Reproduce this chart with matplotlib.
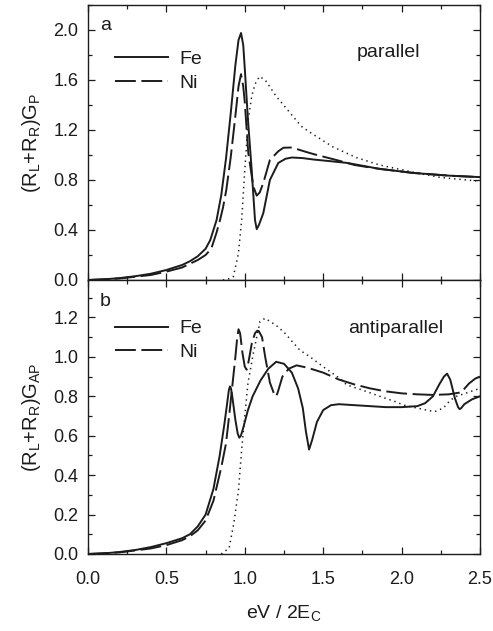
import matplotlib
matplotlib.use("Agg")
import matplotlib.pyplot as plt

# panel a: parallel
fe_p_x = [0, 0.1, 0.2, 0.3, 0.4, 0.5, 0.6, 0.65, 0.7, 0.75, 0.78, 0.82, 0.85, 0.88, 0.91, 0.94,
          0.96, 0.976, 0.99, 1.0, 1.02, 1.044, 1.065, 1.076, 1.09, 1.118, 1.16, 1.214, 1.26, 1.3,
          1.37, 1.437, 1.55, 1.65, 1.86, 2.07, 2.3, 2.5]
fe_p_y = [0, 0.005, 0.015, 0.03, 0.05, 0.08, 0.12, 0.15, 0.19, 0.25, 0.32, 0.48, 0.68, 0.97, 1.33, 1.72,
          1.92, 1.976, 1.88, 1.69, 1.285, 0.88, 0.48, 0.407, 0.44, 0.535, 0.80, 0.937, 0.97, 0.98,
          0.975, 0.964, 0.95, 0.937, 0.889, 0.857, 0.835, 0.823]
ni_p_x = [0, 0.2, 0.4, 0.5, 0.6, 0.7, 0.75, 0.786, 0.82, 0.842, 0.861, 0.882, 0.91, 0.9375, 0.96,
          0.976, 0.99, 1.0, 1.022, 1.054, 1.076, 1.095, 1.118, 1.16, 1.214, 1.246, 1.3, 1.395,
          1.448, 1.596, 1.7, 1.8, 1.86, 2.07, 2.3, 2.5]
ni_p_y = [0, 0.012, 0.04, 0.067, 0.1, 0.16, 0.2, 0.25, 0.38, 0.48, 0.58, 0.72, 0.98, 1.285, 1.55,
          1.647, 1.55, 1.42, 1.02, 0.75, 0.675, 0.70, 0.776, 0.96, 1.03, 1.058, 1.06, 1.023,
          1.004, 0.956, 0.92, 0.9, 0.889, 0.857, 0.835, 0.823]
dot_p_x = [0.86, 0.89, 0.927, 0.959, 0.98, 1.0, 1.022, 1.044, 1.065, 1.093, 1.13, 1.2, 1.28, 1.36,
           1.405, 1.56, 1.71, 1.86, 2.015, 2.12, 2.25, 2.415, 2.5]
dot_p_y = [0, 0.005, 0.027, 0.21, 0.48, 0.88, 1.285, 1.47, 1.566, 1.628, 1.60, 1.47, 1.35, 1.23,
           1.19, 1.066, 0.98, 0.92, 0.878, 0.85, 0.82, 0.80, 0.79]

# panel b: antiparallel
fe_ap_x = [0, 0.1, 0.2, 0.3, 0.4, 0.5, 0.6, 0.65, 0.7, 0.75, 0.8, 0.84, 0.87, 0.89, 0.898, 0.905,
           0.912, 0.92, 0.94, 0.955, 0.965, 0.975, 0.99, 1.02, 1.05, 1.1, 1.15, 1.2, 1.25, 1.3,
           1.34, 1.37, 1.39, 1.41, 1.43, 1.46, 1.5, 1.55, 1.6, 1.7, 1.8, 1.9, 2.0, 2.1, 2.15, 2.2,
           2.24, 2.27, 2.29, 2.31, 2.34, 2.36, 2.37, 2.38, 2.4, 2.45, 2.5]
fe_ap_y = [0, 0.003, 0.01, 0.02, 0.035, 0.055, 0.08, 0.1, 0.14, 0.2, 0.33, 0.5, 0.66, 0.78, 0.83, 0.85,
           0.84, 0.8, 0.68, 0.61, 0.59, 0.6, 0.64, 0.73, 0.8, 0.88, 0.94, 0.975, 0.965, 0.92,
           0.84, 0.74, 0.62, 0.53, 0.58, 0.67, 0.73, 0.755, 0.76, 0.755, 0.75, 0.745, 0.745, 0.75,
           0.765, 0.8, 0.86, 0.9, 0.915, 0.885, 0.79, 0.745, 0.735, 0.74, 0.76, 0.785, 0.80]
ni_ap_x = [0, 0.2, 0.4, 0.5, 0.6, 0.65, 0.7, 0.75, 0.8, 0.85, 0.88, 0.9, 0.92, 0.94, 0.952, 0.96,
           0.97, 0.985, 1.0, 1.012, 1.025, 1.045, 1.065, 1.08, 1.09, 1.11, 1.13, 1.16, 1.19, 1.2,
           1.21, 1.24, 1.28, 1.33, 1.4, 1.5, 1.6, 1.7, 1.8, 1.9, 2.0, 2.1, 2.2, 2.3, 2.38, 2.43,
           2.47, 2.5]
ni_ap_y = [0, 0.008, 0.028, 0.045, 0.07, 0.09, 0.12, 0.17, 0.27, 0.44, 0.56, 0.7, 0.85, 1.0, 1.1, 1.14,
           1.12, 1.02, 0.95, 0.935, 0.98, 1.07, 1.12, 1.133, 1.13, 1.1, 1.0, 0.87, 0.805, 0.8,
           0.82, 0.9, 0.94, 0.957, 0.945, 0.92, 0.885, 0.86, 0.84, 0.825, 0.815, 0.81, 0.807, 0.81,
           0.82, 0.865, 0.89, 0.9]
dot_ap_x = [0.85, 0.9, 0.93, 0.96, 0.98, 1.0, 1.02, 1.055, 1.097, 1.13, 1.16, 1.2, 1.256, 1.3, 1.35,
            1.416, 1.5, 1.607, 1.65, 1.756, 1.86, 1.96, 2.01, 2.1, 2.16, 2.21, 2.266, 2.31, 2.35,
            2.44, 2.5]
dot_ap_y = [0, 0.03, 0.156, 0.325, 0.53, 0.70, 0.866, 1.02, 1.18, 1.196, 1.18, 1.16, 1.12, 1.08, 1.035,
            1.0, 0.95, 0.89, 0.858, 0.83, 0.80, 0.773, 0.756, 0.74, 0.73, 0.722, 0.74, 0.78, 0.80,
            0.824, 0.84]

ink = "#1c1c1c"
plt.rcParams["font.family"] = ["Liberation Sans", "DejaVu Sans"]
plt.rcParams["font.size"] = 13
plt.rcParams["mathtext.fontset"] = "custom"
plt.rcParams["mathtext.rm"] = "Liberation Sans"
plt.rcParams["mathtext.default"] = "regular"
plt.rcParams["lines.scale_dashes"] = False

fig = plt.figure(figsize=(4.93, 6.31), dpi=100)
ax_a = fig.add_axes([88 / 493, 1 - 280 / 631, 392 / 493, 275 / 631])
ax_b = fig.add_axes([88 / 493, 1 - 554 / 631, 392 / 493, 274 / 631])

dash = (15, 4)
dot = (1, 2.8)


def style(ax, ymax, major, minor):
    ax.set_xlim(0, 2.5)
    ax.set_ylim(0, ymax)
    ax.set_xticks([0, 0.5, 1.0, 1.5, 2.0, 2.5])
    ax.set_xticks([0.25, 0.75, 1.25, 1.75, 2.25], minor=True)
    ax.set_yticks(major)
    ax.set_yticks(minor, minor=True)
    ax.tick_params(which="both", direction="in", top=True, right=True, colors=ink,
                   labelsize=13, width=0.9)
    ax.tick_params(which="major", length=5)
    ax.tick_params(which="minor", length=3)
    ax.tick_params(axis="y", pad=7)
    for s in ax.spines.values():
        s.set_linewidth(1.0)
        s.set_color(ink)


leg_kw = dict(loc="upper left", frameon=False, borderpad=0, borderaxespad=0, handlelength=2.7,
              handletextpad=0.6, labelspacing=0.32, fontsize=14, labelcolor=ink)

# parallel
ax_a.plot(fe_p_x, fe_p_y, color=ink, lw=1.4, label="Fe")
ax_a.plot(ni_p_x, ni_p_y, color=ink, lw=1.4, dashes=dash, label="Ni")
ax_a.plot(dot_p_x, dot_p_y, color=ink, lw=1.1, dashes=dot)
style(ax_a, 2.2, [0.0, 0.4, 0.8, 1.2, 1.6, 2.0], [0.2, 0.6, 1.0, 1.4, 1.8, 2.2])
ax_a.set_yticklabels(["0.0", "0.4", "0.8", "1.2", "1.6", "2.0"])
ax_a.tick_params(labelbottom=False)
ax_a.set_ylabel(r"(R$_L$+R$_R$)G$_P$", fontsize=14.5, color=ink, labelpad=7)
ax_a.text(0.03, 0.927, "a", transform=ax_a.transAxes, fontsize=14, color=ink, va="center")
ax_a.text(0.686, 0.829, "parallel", transform=ax_a.transAxes, fontsize=14, color=ink, va="center")
ax_a.legend(bbox_to_anchor=(0.069, 0.835), **leg_kw)

# antiparallel
ax_b.plot(fe_ap_x, fe_ap_y, color=ink, lw=1.4, label="Fe")
ax_b.plot(ni_ap_x, ni_ap_y, color=ink, lw=1.4, dashes=dash, label="Ni")
ax_b.plot(dot_ap_x, dot_ap_y, color=ink, lw=1.1, dashes=dot)
style(ax_b, 1.39, [0.0, 0.2, 0.4, 0.6, 0.8, 1.0, 1.2], [0.1, 0.3, 0.5, 0.7, 0.9, 1.1, 1.3])
ax_b.set_yticklabels(["0.0", "0.2", "0.4", "0.6", "0.8", "1.0", "1.2"])
ax_b.set_xticklabels(["0.0", "0.5", "1.0", "1.5", "2.0", "2.5"])
ax_b.tick_params(axis="x", pad=12)
ax_b.set_ylabel(r"(R$_L$+R$_R$)G$_{AP}$", fontsize=14.5, color=ink, labelpad=7)
ax_b.set_xlabel(r"eV / 2E$_C$", fontsize=14, color=ink, labelpad=11)
ax_b.text(0.03, 0.92, "b", transform=ax_b.transAxes, fontsize=14, color=ink, va="center")
ax_b.text(0.663, 0.822, "antiparallel", transform=ax_b.transAxes, fontsize=14, color=ink, va="center")
ax_b.legend(bbox_to_anchor=(0.069, 0.855), **leg_kw)

fig.savefig("out.png", dpi=100)
